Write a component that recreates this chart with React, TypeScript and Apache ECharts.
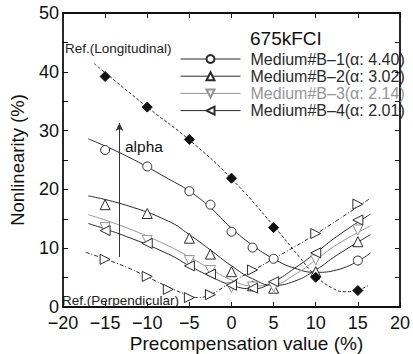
import React, { useEffect, useRef } from "react";
import * as echarts from "echarts";

// ---- data ----
const precompX = [-15, -10, -5, -2.5, 0, 2.5, 5, 10, 15];
const b1Pts = [26.7, 23.9, 19.7, 17.4, 12.8, 10.1, 8.2, null, 7.9];
const b2Pts = [17.4, 15.9, 11.7, 9.0, 6.0, 3.6, 3.2, 6.0, 11.1];
const b3Pts = [13.5, 11.3, 7.9, 6.2, 3.3, 3.4, 3.4, 8.0, 13.1];
const b4Pts = [13.0, 10.8, 7.0, 5.6, 3.7, 3.2, 4.3, 9.2, 14.8];

const refLongX = [-15, -10, -5, 0, 5, 10, 15];
const refLongPts = [39.2, 34.0, 28.5, 21.9, 13.5, 5.05, 2.8];
const refPerpX = [-15, -10, -7.5, -5, -2.5, 2.5, 10, 15];
const refPerpPts = [8.1, 5.2, 3.0, 1.6, 2.1, 6.3, 12.5, 17.5];

// fitted curves
const fitX = [-17, -12.5, -7.5, -5, -2.5, 0, 2.5, 5, 7.5, 10, 12.5, 16.5];
const b1Fit = [28.6, 25.7, 21.8, 19.7, 16.9, 13.4, 10.5, 8.2, 6.6, 5.9, 6.3, 9.2];
const b2Fit = [18.9, 17.3, 14.6, 12.3, 9.7, 7.0, 4.8, 3.7, 4.4, 6.3, 8.8, 12.3];
const b3Fit = [15.7, 13.5, 10.4, 8.5, 6.5, 4.6, 3.6, 3.8, 5.5, 8.0, 10.6, 13.8];
const b4Fit = [14.2, 12.0, 9.0, 7.0, 5.2, 3.7, 3.1, 4.3, 6.6, 9.2, 12.0, 15.8];
const longFitX = [-16.3, -10, -5, 0, 5, 8, 10, 12, 13.5, 15, 16.2];
const longFit = [41.4, 34.0, 28.4, 21.8, 13.8, 8.6, 5.3, 3.2, 2.6, 2.9, 3.6];
const perpFitX = [-17.3, -12.5, -7.5, -5, -4, -2.5, 0, 5, 10, 16.5];
const perpFit = [9.3, 6.8, 3.4, 1.9, 1.6, 2.1, 4.2, 8.2, 12.4, 18.5];

const alphaArrow = { x: -13.3, from: 8.5, to: 31.3 };

const mediumNames = [
  "Medium#B\u20131(\u03b1: 4.40)",
  "Medium#B\u20132(\u03b1: 3.02)",
  "Medium#B\u20133(\u03b1: 2.14)",
  "Medium#B\u20134(\u03b1: 2.01)",
];

const FONT = "'Liberation Sans', Arial, sans-serif";
const DARK = "#2a2a2a";
const GRAY = "#959595";

const zip = (xs: number[], ys: (number | null)[]) =>
  xs.map((x, i) => [x, ys[i]]).filter((p) => p[1] !== null);

const frameAxis = (extra: any) => ({
  type: "value",
  axisLine: { show: true, onZero: false, lineStyle: { color: "#111", width: 1.8 } },
  axisTick: { show: true, inside: true, length: 5, lineStyle: { color: "#111" } },
  splitLine: { show: false },
  ...extra,
});

export default function App() {
  const ref = useRef<HTMLDivElement>(null);
  useEffect(() => {
    if (!ref.current) return;
    const chart = echarts.init(ref.current, null, { renderer: "svg" });

    const colors = [DARK, DARK, GRAY, DARK];
    const symbols = ["circle", "triangle", "triangle", "triangle"];
    const rotations = [0, 0, 180, 90];
    const pts = [b1Pts, b2Pts, b3Pts, b4Pts];
    const fits = [b1Fit, b2Fit, b3Fit, b4Fit];

    const fitSeries = fits.map((f, i) => ({
      type: "line",
      name: "fit" + i,
      data: zip(fitX, f),
      smooth: 0.5,
      showSymbol: false,
      symbol: "none",
      lineStyle: { color: colors[i], width: 1 },
      silent: true,
      z: 2,
    }));

    const pointSeries = pts.map((p, i) => ({
      type: "line",
      name: mediumNames[i],
      data: zip(precompX, p),
      symbol: symbols[i],
      symbolSize: symbols[i] === "circle" ? 9 : 10,
      symbolRotate: rotations[i],
      showAllSymbol: true,
      lineStyle: { width: 0, color: colors[i] },
      itemStyle: { color: "#fff", borderColor: colors[i], borderWidth: 1 },
      z: 4,
    }));

    const option: any = {
      animation: false,
      grid: { left: 58, right: 10, top: 13, bottom: 47, containLabel: false },
      xAxis: [
        frameAxis({
          min: -20,
          max: 20,
          interval: 5,
          position: "bottom",
          axisLabel: {
            fontSize: 18,
            fontFamily: FONT,
            color: "#111",
            margin: 7,
            formatter: (v: number) => (v < 0 ? "\u2212" + Math.abs(v) : String(v)),
          },
        }),
        frameAxis({ min: -20, max: 20, interval: 5, position: "top", axisLabel: { show: false } }),
      ],
      yAxis: [
        frameAxis({
          min: 0,
          max: 50,
          interval: 10,
          position: "left",
          name: "Nonlinearity (%)",
          nameLocation: "middle",
          nameGap: 36,
          nameTextStyle: { fontSize: 18.5, fontFamily: FONT, color: "#111" },
          minorTick: { show: true, splitNumber: 2, length: 5, lineStyle: { color: "#111" } },
          axisLabel: { fontSize: 18, fontFamily: FONT, color: "#111", margin: 4 },
        }),
        frameAxis({
          min: 0,
          max: 50,
          interval: 10,
          position: "right",
          minorTick: { show: true, splitNumber: 2, length: 5, lineStyle: { color: "#111" } },
          axisLabel: { show: false },
        }),
      ],
      legend: {
        orient: "vertical",
        left: 180,
        top: 51,
        padding: 0,
        itemWidth: 60,
        itemHeight: 10,
        itemGap: 1.2,
        selectedMode: false,
        data: mediumNames.map((n, i) => ({
          name: n,
          lineStyle: { width: 1, color: colors[i], opacity: 1 },
          textStyle: { color: colors[i] },
        })),
        textStyle: { fontSize: 16, fontFamily: FONT, padding: [0, 0, 0, 5] },
      },
      graphic: [
        {
          type: "text",
          x: 250,
          y: 38,
          style: { text: "675kFCI", fontSize: 19, fontFamily: FONT, fill: "#111", verticalAlign: "middle" },
        },
        {
          type: "text",
          x: 65,
          y: 48,
          style: { text: "Ref.(Longitudinal)", fontSize: 13.5, fontFamily: FONT, fill: "#222", verticalAlign: "middle" },
        },
        {
          type: "text",
          x: 62,
          y: 300,
          style: { text: "Ref.(Perpendicular)", fontSize: 13.5, fontFamily: FONT, fill: "#222", verticalAlign: "middle" },
        },
        {
          type: "text",
          x: 125,
          y: 146,
          style: { text: "alpha", fontSize: 15.5, fontFamily: FONT, fill: "#111", verticalAlign: "middle" },
        },
        {
          type: "text",
          x: 246.5,
          y: 343,
          style: {
            text: "Precompensation value (%)",
            fontSize: 19,
            fontFamily: FONT,
            fill: "#111",
            align: "center",
            verticalAlign: "middle",
          },
        },
      ],
      series: [
        ...fitSeries,
        {
          type: "line",
          name: "longFit",
          data: zip(longFitX, longFit),
          smooth: 0.5,
          showSymbol: false,
          symbol: "none",
          lineStyle: { color: DARK, width: 1, type: [3, 2] },
          silent: true,
          z: 2,
        },
        {
          type: "line",
          name: "perpFit",
          data: zip(perpFitX, perpFit),
          smooth: 0.4,
          showSymbol: false,
          symbol: "none",
          lineStyle: { color: DARK, width: 1, type: [4, 2, 1, 2] },
          silent: true,
          z: 2,
          markLine: {
            silent: true,
            symbol: ["none", "arrow"],
            symbolSize: [6, 8],
            label: { show: false },
            lineStyle: { color: "#333", width: 1, type: "solid" },
            data: [
              [
                { coord: [alphaArrow.x, alphaArrow.from] },
                { coord: [alphaArrow.x, alphaArrow.to] },
              ],
            ],
          },
        },
        ...pointSeries,
        {
          type: "line",
          name: "refLong",
          data: zip(refLongX, refLongPts),
          symbol: "diamond",
          symbolSize: 10,
          showAllSymbol: true,
          lineStyle: { width: 0 },
          itemStyle: { color: "#111", borderColor: "#111" },
          z: 4,
        },
        {
          type: "line",
          name: "refPerp",
          data: zip(refPerpX, refPerpPts),
          symbol: "triangle",
          symbolSize: 10,
          symbolRotate: -90,
          showAllSymbol: true,
          lineStyle: { width: 0 },
          itemStyle: { color: "#fff", borderColor: DARK, borderWidth: 1 },
          z: 4,
        },
      ],
    };
    chart.setOption(option);
    return () => chart.dispose();
  }, []);

  return (
    <div
      ref={ref}
      style={{ position: "fixed", left: 0, top: 0, width: 413, height: 354, background: "#fff" }}
    />
  );
}
